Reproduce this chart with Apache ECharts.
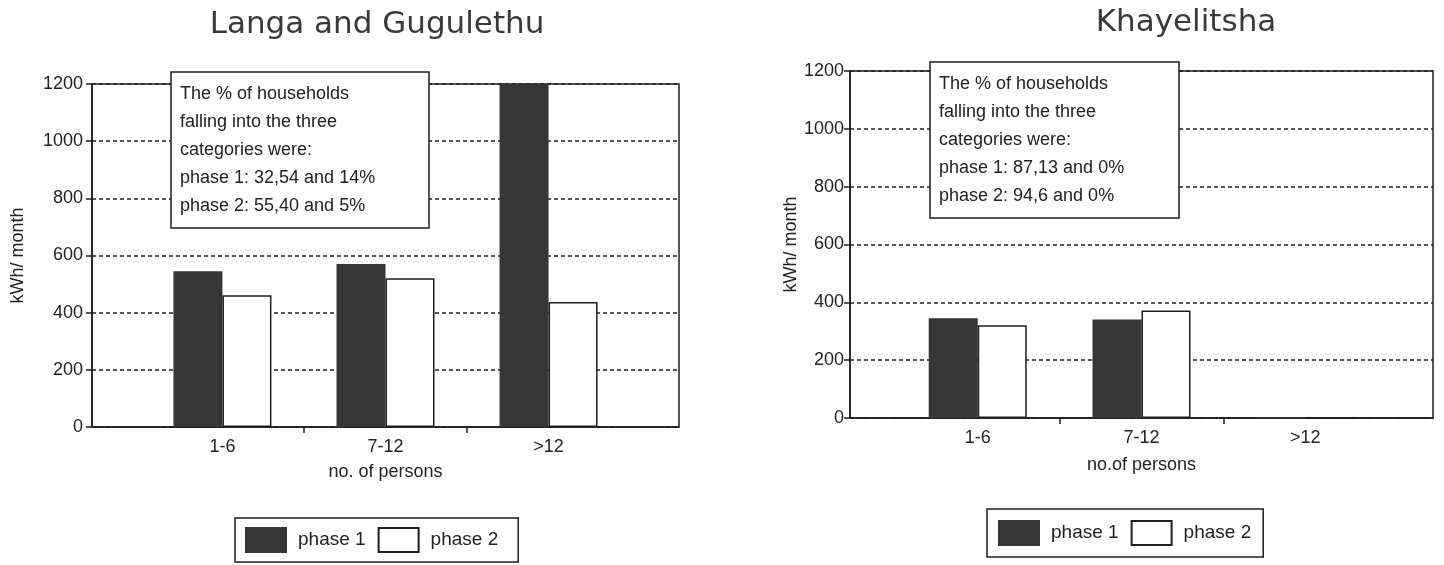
<!DOCTYPE html>
<html>
<head>
<meta charset="utf-8">
<script src="https://cdn.jsdelivr.net/npm/echarts@6/dist/echarts.min.js"></script>
<style>
  html, body { margin: 0; padding: 0; background: #ffffff; }
  #chart { width: 1444px; height: 565px; }
</style>
</head>
<body>
<div id="chart"></div>
<script>
// Household size groups on the x axis
const categories = ['1-6', '7-12', '>12'];

// Monthly consumption, kWh/month
const langaPhase1 = [545, 570, 1200];
const langaPhase2 = [461, 520, 437];
const khayPhase1 = [345, 341, 0];
const khayPhase2 = [321, 372, 0];

// Value axis range
const yMin = 0;
const yMax = 1200;
const yStep = 200;

const seriesNames = ['phase 1', 'phase 2'];

const langaNote = [
  'The % of households',
  'falling into the three',
  'categories were:',
  'phase 1: 32,54 and 14%',
  'phase 2: 55,40 and 5%'
];
const khayNote = [
  'The % of households',
  'falling into the three',
  'categories were:',
  'phase 1: 87,13 and 0%',
  'phase 2: 94,6 and 0%'
];

const ink = '#1e1e1e';
const dark = '#363636';
const sans = '"Liberation Sans", Arial, Helvetica, sans-serif';
const headFont = '"DejaVu Sans", "Noto Sans", sans-serif';

// Category centres sit at 0,1,2 on a value axis; ticks mark the boundaries between them
const centreValues = categories.map((c, i) => i);
const boundaryValues = categories.slice(1).map((c, i) => i + 0.5);

function makeXAxis(gridIndex, min, max, name, nameGap) {
  return {
    type: 'value', gridIndex, min, max,
    name, nameLocation: 'middle', nameGap,
    nameTextStyle: { fontFamily: sans, fontSize: 18, color: '#222' },
    axisLine: { show: true, onZero: false, lineStyle: { color: ink, width: 1.5 } },
    axisTick: { show: true, inside: false, length: 6, customValues: boundaryValues,
                lineStyle: { color: ink, width: 1.5 } },
    axisLabel: { customValues: centreValues, margin: 11, fontFamily: sans, fontSize: 18, color: '#222',
                 formatter: v => categories[Math.round(v)] },
    splitLine: { show: false }
  };
}

function makeYAxis(gridIndex, labelMargin, nameGap) {
  return {
    type: 'value', gridIndex, min: yMin, max: yMax, interval: yStep,
    name: 'kWh/ month', nameLocation: 'middle', nameRotate: 90, nameGap,
    nameTextStyle: { fontFamily: sans, fontSize: 18, color: '#222' },
    axisLine: { show: true, onZero: false, lineStyle: { color: ink, width: 1.5 } },
    axisTick: { show: true, inside: false, length: 6, lineStyle: { color: ink, width: 1.5 } },
    axisLabel: { margin: labelMargin, fontFamily: sans, fontSize: 18, color: '#222',
                 formatter: v => String(v) },
    splitLine: { show: true, lineStyle: { color: ink, width: 1.5, type: [4, 3] } }
  };
}

function makeBars(name, values, axisIndex, fill) {
  return {
    type: 'bar', name,
    xAxisIndex: axisIndex, yAxisIndex: axisIndex,
    data: values.map((v, i) => [i, v]),
    barWidth: 49, barGap: '0%',
    itemStyle: { color: fill, borderColor: fill === '#ffffff' ? ink : dark, borderWidth: 1.5 },
    emphasis: { disabled: true }
  };
}

function makeNote(lines, left, top, textWidth) {
  return {
    text: lines.join('\n'), left, top,
    padding: [8, 8, 8, 9],
    backgroundColor: '#ffffff', borderColor: ink, borderWidth: 1.5,
    textStyle: { fontFamily: sans, fontSize: 18, fontWeight: 'normal', lineHeight: 28,
                 color: '#222', width: textWidth }
  };
}

function makeLegend(left, top, padding) {
  return {
    data: seriesNames, left, top, orient: 'horizontal', icon: 'rect',
    itemWidth: 40, itemHeight: 24, itemGap: 12, padding,
    borderColor: ink, borderWidth: 1.5, selectedMode: false,
    textStyle: { fontFamily: sans, fontSize: 19, color: '#222', padding: [0, 0, 0, 7] }
  };
}

const option = {
  backgroundColor: '#ffffff',
  animation: false,
  title: [
    { text: 'Langa and Gugulethu', left: 372, top: 4, textAlign: 'center',
      textStyle: { fontFamily: headFont, fontSize: 31, fontWeight: 'normal', color: '#3a3a3a' } },
    { text: 'Khayelitsha', left: 1181, top: 2, textAlign: 'center',
      textStyle: { fontFamily: headFont, fontSize: 31, fontWeight: 'normal', color: '#3a3a3a' } },
    makeNote(langaNote, 171, 72, 241),
    makeNote(khayNote, 930, 62, 232)
  ],
  legend: [
    makeLegend(235, 518, [9, 20, 9, 10]),
    makeLegend(987, 509, [11, 12, 11, 11])
  ],
  grid: [
    { left: 92, right: 1444 - 679, top: 84, bottom: 565 - 427,
      show: true, borderColor: ink, borderWidth: 1.5, backgroundColor: 'transparent' },
    { left: 850, right: 1444 - 1433, top: 71, bottom: 565 - 418,
      show: true, borderColor: ink, borderWidth: 1.5, backgroundColor: 'transparent' }
  ],
  xAxis: [
    makeXAxis(0, -0.8, 2.8, 'no. of persons', 36),
    makeXAxis(1, -0.78, 2.78, 'no.of persons', 38)
  ],
  yAxis: [
    makeYAxis(0, 9, 65),
    makeYAxis(1, 6, 40)
  ],
  series: [
    makeBars(seriesNames[0], langaPhase1, 0, dark),
    makeBars(seriesNames[1], langaPhase2, 0, '#ffffff'),
    makeBars(seriesNames[0], khayPhase1, 1, dark),
    makeBars(seriesNames[1], khayPhase2, 1, '#ffffff')
  ]
};

const chart = echarts.init(document.getElementById('chart'), null, { renderer: 'canvas' });
chart.setOption(option);
</script>
</body>
</html>
